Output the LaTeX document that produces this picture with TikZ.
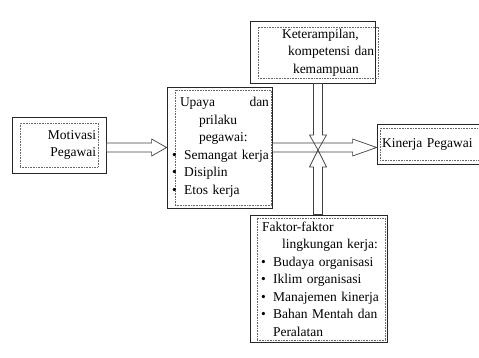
\documentclass[tikz,border=0pt]{standalone}
\usepackage{fontspec}
\setmainfont{Liberation Serif}
\usetikzlibrary{calc,positioning}

\newcommand{\dotitem}[1]{\hspace*{#1}\textbullet\hspace{7.5pt}}

\begin{document}
\begin{tikzpicture}[x=1pt,y=-1pt,font=\fontsize{13.5}{17.5}\selectfont]
 \tikzset{outer/.style={draw=black!85,line width=.8pt,inner sep=0pt},
          inner/.style={draw=black!60,densely dotted,line width=.6pt,inner sep=2pt,align=left},
          hollow/.style={draw=black!75,line width=.7pt,to path={
            ($(\tikztostart)!4.5pt!90:(\tikztotarget)$)
            -- ($(\tikztotarget)!#1!(\tikztostart)!4.5pt!90:(\tikztotarget)$)
            -- ($(\tikztotarget)!#1!(\tikztostart)!8.5pt!90:(\tikztotarget)$)
            -- (\tikztotarget)
            -- ($(\tikztotarget)!#1!(\tikztostart)!8.5pt!-90:(\tikztotarget)$)
            -- ($(\tikztotarget)!#1!(\tikztostart)!4.5pt!-90:(\tikztotarget)$)
            -- ($(\tikztostart)!4.5pt!-90:(\tikztotarget)$) -- cycle}}}
 \clip (0,0) rectangle (479,358);
 % boxes
 \node[outer,minimum width=94pt,minimum height=56pt] (mot) at (59,145) {};
 \node[inner,align=right,text width=74pt,minimum height=44pt] (motin) at (59,145)
   {Motivasi\hspace*{12pt}\\Pegawai\hspace*{3pt}};
 \node[outer,minimum width=105pt,minimum height=121pt] (upaya) at (219.5,147.5) {};
 \node[inner,text width=92pt,minimum height=115pt] (upayain) at (223,147.5)
   {\hspace*{3pt}Upaya\hfill dan\\
    \hspace*{22pt}prilaku\\
    \hspace*{22pt}pegawai:\\
    \dotitem{-5pt}Semangat~kerja\\
    \dotitem{-5pt}Disiplin\\
    \dotitem{-5pt}Etos~kerja};
 \node[outer,minimum width=125pt,minimum height=62pt] (ket) at (312.5,52) {};
 \node[inner,text width=116pt,minimum height=51pt] (ketin) at (318,52.5)
   {\hspace*{22pt}Keterampilan,\\
    \hspace*{28pt}kompetensi~dan\\
    \hspace*{33pt}kemampuan};
 \node[outer,minimum width=113pt,minimum height=40pt] (kin) at (433.5,144) {};
 \node[inner,text width=96pt,minimum height=32pt] (kinin) at (430,144)
   {Kinerja~Pegawai};
 \node[outer,minimum width=137pt,minimum height=127pt] (fak) at (318.5,278.5) {};
 \node[inner,text width=124pt,minimum height=122pt] (fakin) at (321,279)
   {\hspace*{3pt}Faktor-faktor\\
    \hspace*{23pt}lingkungan~kerja:\\
    \dotitem{2pt}Budaya~organisasi\\
    \dotitem{2pt}Iklim~organisasi\\
    \dotitem{2pt}Manajemen~kinerja\\
    \dotitem{2pt}Bahan~Mentah~dan\\
    \hspace*{14pt}Peralatan};
 % arrows
 \coordinate (cross) at (318,150);
 \coordinate (motout) at (mot.east |- upaya.west);
 \coordinate (kinin) at (upaya.east -| kin.west);
 \coordinate (ketout) at (cross |- ket.south);
 \coordinate (fakout) at (cross |- fak.north);
 \draw[hollow=15pt] (motout) to (upaya.west);
 \draw[hollow=24pt] (upaya.east) to (kinin);
 \draw[hollow=15pt] (ketout) to (cross);
 \draw[hollow=17pt] (fakout) to (cross);
\end{tikzpicture}
\end{document}
